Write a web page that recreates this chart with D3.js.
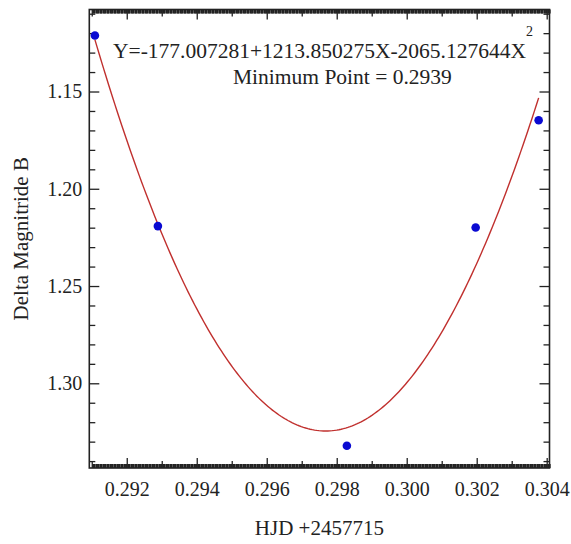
<!DOCTYPE html>
<html>
<head>
<meta charset="utf-8">
<script src="https://cdn.jsdelivr.net/npm/d3@7"></script>
<style>
  html, body { margin: 0; padding: 0; background: #fff; }
  svg { display: block; }
  text { font-family: "Liberation Serif", "Times New Roman", serif; fill: #222; }
</style>
</head>
<body>
<svg id="chart" width="571" height="544"></svg>
<script>
// ---- data ----
const hjd = [0.29109, 0.29289, 0.29829, 0.30197, 0.30377];
const deltaMagB = [1.1212, 1.2192, 1.3321, 1.2199, 1.1648];
const xTickLabels = ["0.292", "0.294", "0.296", "0.298", "0.300", "0.302", "0.304"];
const yTickLabels = ["1.15", "1.20", "1.25", "1.30"];
const xTitle = "HJD +2457715";
const yTitle = "Delta Magnitride B";
const eqText = "Y=-177.007281+1213.850275X-2065.127644X";
const eqSup = "2";
const minText = "Minimum Point = 0.2939";

// ---- layout ----
const pLeft = 89.3, pRight = 549.5, pTop = 9.5, pBottom = 468;
const svg = d3.select("#chart");

const x = d3.scaleLinear().domain([0.29093, 0.30408]).range([pLeft, pRight]);
const y = d3.scaleLinear().domain([1.10784, 1.34355]).range([pTop, pBottom]);

// tick value sets (integer steps to avoid float drift)
const xMajor = xTickLabels.map(Number);
const xMedium = d3.range(2910, 3041, 10).map(d => d / 10000).filter(v => !xMajor.some(m => Math.abs(m - v) < 1e-9));
const xMinor = d3.range(14550, 15205, 1).map(d => d / 50000).filter(v => v >= 0.29093 && v <= 0.30408 && Math.abs(Math.round(v * 10000) - v * 10000) > 1e-6);
const yMajor = yTickLabels.map(Number);
const yMinor = d3.range(111, 135, 1).map(d => d / 100).filter(v => !yMajor.some(m => Math.abs(m - v) < 1e-9));

function styleAxis(g) {
  g.select(".domain").remove();
  g.selectAll(".tick line").attr("stroke", "#222").attr("stroke-width", 1.3);
  g.selectAll(".tick text").attr("font-family", "Liberation Serif").attr("font-size", 20).attr("fill", "#222");
}

// bottom axis
svg.append("g").attr("transform", `translate(0,${pBottom})`)
  .call(d3.axisBottom(x).tickValues(xMajor).tickSize(-10).tickPadding(14).tickFormat((d, i) => xTickLabels[i]))
  .call(styleAxis);
svg.append("g").attr("transform", `translate(0,${pBottom})`)
  .call(d3.axisBottom(x).tickValues(xMedium).tickSize(-7).tickFormat("")).call(styleAxis);
svg.append("g").attr("transform", `translate(0,${pBottom})`)
  .call(d3.axisBottom(x).tickValues(xMinor).tickSize(-4).tickFormat("")).call(styleAxis);
// top axis (mirror)
svg.append("g").attr("transform", `translate(0,${pTop})`)
  .call(d3.axisTop(x).tickValues(xMajor).tickSize(-10).tickFormat("")).call(styleAxis);
svg.append("g").attr("transform", `translate(0,${pTop})`)
  .call(d3.axisTop(x).tickValues(xMedium).tickSize(-7).tickFormat("")).call(styleAxis);
svg.append("g").attr("transform", `translate(0,${pTop})`)
  .call(d3.axisTop(x).tickValues(xMinor).tickSize(-4).tickFormat("")).call(styleAxis);
// left axis
svg.append("g").attr("transform", `translate(${pLeft},0)`)
  .call(d3.axisLeft(y).tickValues(yMajor).tickSize(-10).tickPadding(7).tickFormat((d, i) => yTickLabels[i]))
  .call(styleAxis);
svg.append("g").attr("transform", `translate(${pLeft},0)`)
  .call(d3.axisLeft(y).tickValues(yMinor).tickSize(-6).tickFormat("")).call(styleAxis);
// right axis (mirror)
svg.append("g").attr("transform", `translate(${pRight},0)`)
  .call(d3.axisRight(y).tickValues(yMajor).tickSize(-10).tickFormat("")).call(styleAxis);
svg.append("g").attr("transform", `translate(${pRight},0)`)
  .call(d3.axisRight(y).tickValues(yMinor).tickSize(-6).tickFormat("")).call(styleAxis);

// frame
svg.append("rect")
  .attr("x", pLeft).attr("y", pTop)
  .attr("width", pRight - pLeft).attr("height", pBottom - pTop)
  .attr("fill", "none").attr("stroke", "#222").attr("stroke-width", 1.6);

// ---- least-squares quadratic fit of the data ----
const xm = d3.mean(hjd);
const ts = hjd.map(v => (v - xm) * 1000);
const S = k => d3.sum(ts, t => Math.pow(t, k));
const Sy = k => d3.sum(ts, (t, i) => Math.pow(t, k) * deltaMagB[i]);
const A = [[S(0), S(1), S(2)], [S(1), S(2), S(3)], [S(2), S(3), S(4)]];
const B = [Sy(0), Sy(1), Sy(2)];
function solve3(M, b) {
  const m = M.map((r, i) => r.concat([b[i]]));
  for (let c = 0; c < 3; c++) {
    let p = c;
    for (let r = c + 1; r < 3; r++) if (Math.abs(m[r][c]) > Math.abs(m[p][c])) p = r;
    [m[c], m[p]] = [m[p], m[c]];
    for (let r = 0; r < 3; r++) {
      if (r === c) continue;
      const f = m[r][c] / m[c][c];
      for (let k = c; k < 4; k++) m[r][k] -= f * m[c][k];
    }
  }
  return [m[0][3] / m[0][0], m[1][3] / m[1][1], m[2][3] / m[2][2]];
}
const coef = solve3(A, B);
const fitX = d3.range(0, 201).map(i => d3.min(hjd) + (d3.max(hjd) - d3.min(hjd)) * i / 200);
const fitPts = fitX.map(v => {
  const t = (v - xm) * 1000;
  return [v, coef[0] + coef[1] * t + coef[2] * t * t];
});

svg.append("path")
  .datum(fitPts)
  .attr("fill", "none")
  .attr("stroke", "#c0302e")
  .attr("stroke-width", 1.4)
  .attr("d", d3.line().x(d => x(d[0])).y(d => y(d[1])));

// points
svg.append("g").selectAll("circle")
  .data(hjd.map((v, i) => [v, deltaMagB[i]]))
  .join("circle")
  .attr("cx", d => x(d[0]))
  .attr("cy", d => y(d[1]))
  .attr("r", 4.3)
  .attr("fill", "#0a0ad2");

// annotation
svg.append("text").attr("x", 113).attr("y", 58).attr("font-size", 21.5).text(eqText);
svg.append("text").attr("x", 526).attr("y", 36).attr("font-size", 14).text(eqSup);
svg.append("text").attr("x", 233).attr("y", 84).attr("font-size", 21.5).text(minText);

// axis titles
svg.append("text")
  .attr("x", (pLeft + pRight) / 2).attr("y", 535)
  .attr("text-anchor", "middle").attr("font-size", 21)
  .text(xTitle);
svg.append("text")
  .attr("transform", `translate(28,${(pTop + pBottom) / 2}) rotate(-90)`)
  .attr("text-anchor", "middle").attr("font-size", 21)
  .text(yTitle);
</script>
</body>
</html>
